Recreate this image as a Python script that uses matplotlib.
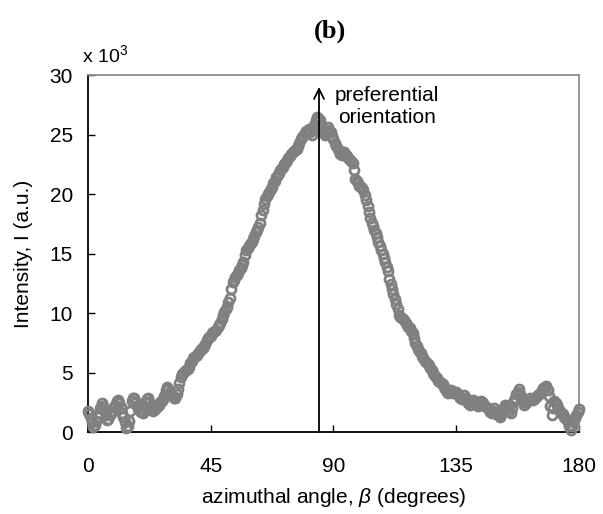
import matplotlib
matplotlib.use("Agg")
import matplotlib.pyplot as plt

plt.rcParams['font.family'] = ['Liberation Sans', 'DejaVu Sans']
plt.rcParams['mathtext.fontset'] = 'custom'
plt.rcParams['mathtext.rm'] = 'Liberation Sans'
plt.rcParams['mathtext.it'] = 'Liberation Sans:italic'

# azimuthal angle in 0.5 degree steps, 0 .. 180
angles = [i * 0.5 for i in range(361)]
# intensity (x 10^3)
intensity = [
    1.8, 1.5, 1.2, 0.8, 0.4, 0.6, 0.9, 1.3, 1.6, 2.0,
    2.4, 2.2, 1.9, 1.4, 1.0, 1.1, 1.4, 1.6, 1.8, 2.1,
    2.3, 2.6, 2.7, 2.4, 2.1, 1.6, 1.3, 0.8, 0.3, 0.5,
    0.9, 1.8, 2.6, 2.9, 2.9, 2.5, 2.2, 2.0, 1.8, 1.7,
    1.6, 2.0, 2.5, 2.8, 2.9, 2.5, 2.2, 2.0, 1.8, 1.9,
    2.0, 2.2, 2.3, 2.5, 2.6, 2.8, 3.0, 3.5, 3.8, 3.6,
    3.4, 3.2, 3.0, 2.9, 2.9, 3.2, 3.6, 4.1, 4.6, 4.9,
    5.0, 5.1, 5.2, 5.3, 5.5, 5.8, 6.0, 6.2, 6.3, 6.4,
    6.5, 6.6, 6.8, 7.0, 7.1, 7.2, 7.4, 7.7, 7.9, 8.0,
    8.1, 8.3, 8.4, 8.5, 8.6, 8.8, 9.0, 9.2, 9.5, 9.8,
    10.1, 10.3, 10.5, 10.9, 11.3, 12.0, 12.6, 12.8, 13.0, 13.2,
    13.4, 13.6, 13.8, 14.0, 14.3, 14.9, 15.3, 15.5, 15.6, 15.8,
    16.0, 16.2, 16.5, 16.8, 17.0, 17.2, 17.6, 18.2, 18.7, 19.2,
    19.6, 19.8, 20.0, 20.2, 20.4, 20.6, 20.9, 21.1, 21.4, 21.6,
    21.8, 22.0, 22.2, 22.3, 22.5, 22.7, 22.9, 23.0, 23.2, 23.4,
    23.5, 23.6, 23.7, 23.8, 24.0, 24.3, 24.6, 24.8, 24.9, 25.1,
    25.3, 25.4, 25.5, 25.2, 25.0, 25.4, 25.8, 26.2, 26.5, 26.4,
    26.2, 25.8, 25.3, 25.1, 25.0, 25.3, 25.6, 25.4, 25.2, 24.9,
    24.6, 24.3, 24.0, 23.8, 23.6, 23.4, 23.3, 23.4, 23.5, 23.3,
    23.2, 23.0, 22.9, 22.8, 22.6, 22.0, 21.3, 21.1, 20.9, 20.7,
    20.6, 20.5, 20.3, 19.9, 19.5, 19.0, 18.5, 18.0, 17.6, 17.3,
    17.0, 16.7, 16.4, 16.0, 15.6, 15.3, 15.0, 14.6, 14.3, 13.9,
    13.5, 12.9, 12.4, 12.0, 11.6, 11.2, 10.8, 10.3, 9.8, 9.7,
    9.6, 9.5, 9.4, 9.2, 9.0, 8.8, 8.7, 8.5, 8.3, 7.9,
    7.5, 7.2, 7.0, 6.8, 6.6, 6.4, 6.2, 6.0, 5.9, 5.7,
    5.6, 5.4, 5.2, 5.0, 4.8, 4.6, 4.5, 4.3, 4.2, 4.1,
    4.0, 3.8, 3.6, 3.4, 3.3, 3.4, 3.5, 3.4, 3.3, 3.3,
    3.4, 3.2, 3.0, 2.9, 2.8, 2.9, 3.1, 2.9, 2.6, 2.4,
    2.3, 2.5, 2.7, 2.6, 2.5, 2.3, 2.2, 2.4, 2.6, 2.5,
    2.4, 2.2, 2.1, 2.0, 1.9, 1.7, 1.6, 1.8, 2.0, 1.7,
    1.5, 1.4, 1.3, 1.5, 1.8, 2.0, 2.3, 2.1, 2.0, 1.8,
    1.6, 2.0, 2.5, 2.9, 3.2, 3.4, 3.6, 3.2, 2.8, 2.5,
    2.3, 2.4, 2.6, 2.8, 2.9, 2.8, 2.7, 2.8, 2.9, 3.0,
    3.1, 3.2, 3.3, 3.5, 3.7, 3.8, 3.9, 3.5, 3.0, 2.2,
    1.4, 2.0, 2.6, 2.4, 2.3, 2.0, 1.8, 1.6, 1.5, 1.3,
    1.2, 1.0, 0.8, 0.5, 0.2, 0.5, 0.9, 1.2, 1.4, 1.7,
    1.9,
]
x_ticks = [0, 45, 90, 135, 180]
y_ticks = [0, 5, 10, 15, 20, 25, 30]
peak_angle = 84.7

fig = plt.figure(figsize=(6.03, 5.14), dpi=100)
ax = fig.add_axes([0.146, 0.1595, 0.814, 0.6945])

ax.plot(angles, intensity, linestyle='none', marker='o', markersize=6.5,
        markerfacecolor='none', markeredgecolor='#808080', markeredgewidth=2.0,
        clip_on=False, zorder=3)

ax.annotate('', xy=(peak_angle, 29.0), xytext=(peak_angle, 0),
            arrowprops=dict(arrowstyle='->', color='black', lw=1.3,
                            mutation_scale=18, shrinkA=0, shrinkB=0), zorder=4)
ax.text(109.5, 27.35, 'preferential\norientation', ha='center', va='center',
        fontsize=15, linespacing=1.2)

ax.set_xlim(0, 180)
ax.set_ylim(0, 30)
ax.set_xticks(x_ticks)
ax.set_yticks(y_ticks)
ax.tick_params(direction='in', length=5, width=1, labelsize=15)
ax.tick_params(axis='x', pad=18)
ax.tick_params(axis='y', pad=11)

for s in ['left', 'bottom']:
    ax.spines[s].set_color('black')
    ax.spines[s].set_linewidth(1.3)
for s in ['top', 'right']:
    ax.spines[s].set_color('#8c8c8c')
    ax.spines[s].set_linewidth(1.3)

ax.set_xlabel(r'azimuthal angle, $\mathit{\beta}$ (degrees)', fontsize=15, labelpad=7)
ax.set_ylabel('Intensity, I (a.u.)', fontsize=15, labelpad=12)

ax.text(-0.012, 1.025, r'x 10$^{3}$', transform=ax.transAxes, ha='left', va='bottom',
        fontsize=14)

fig.text(0.547, 0.94, '(b)', ha='center', va='center', fontsize=19,
         fontweight='bold', family='Liberation Serif')

fig.savefig('out.png', dpi=100)
